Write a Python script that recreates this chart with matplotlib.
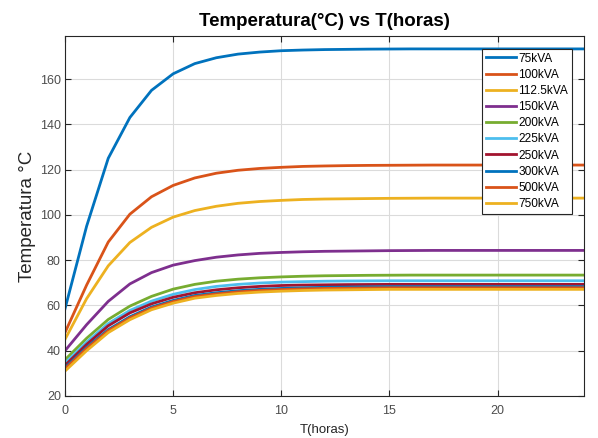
import matplotlib
matplotlib.use("Agg")
import matplotlib.pyplot as plt

hours = list(range(25))

labels = ["75kVA", "100kVA", "112.5kVA", "150kVA", "200kVA", "225kVA",
          "250kVA", "300kVA", "500kVA", "750kVA"]

t75 = [58.5, 95, 125, 143, 155, 162.3, 166.8, 169.4, 171.0, 171.9, 172.5, 172.8,
       173.0, 173.1, 173.2, 173.25, 173.3, 173.3, 173.3, 173.3, 173.3, 173.3, 173.3, 173.3, 173.3]
t100 = [48, 69, 88, 100.3, 108, 113, 116.3, 118.4, 119.7, 120.5, 121.0, 121.4,
        121.6, 121.75, 121.85, 121.9, 121.95, 122, 122, 122, 122, 122, 122, 122, 122]
t112 = [45, 63, 77.5, 87.8, 94.5, 99, 101.9, 103.8, 105.1, 105.9, 106.4, 106.8,
        107.0, 107.1, 107.2, 107.3, 107.35, 107.4, 107.4, 107.4, 107.4, 107.4, 107.4, 107.4, 107.4]
t150 = [40, 51.5, 61.8, 69.5, 74.5, 77.8, 79.8, 81.3, 82.3, 83.0, 83.4, 83.7,
        83.9, 84.0, 84.1, 84.2, 84.25, 84.3, 84.3, 84.3, 84.3, 84.3, 84.3, 84.3, 84.3]
t200 = [36, 45.5, 53.8, 59.7, 64.0, 67.2, 69.3, 70.7, 71.6, 72.2, 72.6, 72.9,
        73.1, 73.2, 73.3, 73.35, 73.4, 73.4, 73.4, 73.4, 73.4, 73.4, 73.4, 73.4, 73.4]
t225 = [34.5, 43.8, 52, 57.8, 61.9, 64.9, 67.0, 68.4, 69.3, 69.9, 70.3, 70.5,
        70.7, 70.8, 70.85, 70.9, 70.9, 70.9, 70.9, 70.9, 70.9, 70.9, 70.9, 70.9, 70.9]
t250 = [33.5, 42.8, 51, 56.7, 60.7, 63.6, 65.6, 66.9, 67.8, 68.4, 68.8, 69.0,
        69.1, 69.2, 69.25, 69.3, 69.3, 69.3, 69.3, 69.3, 69.3, 69.3, 69.3, 69.3, 69.3]
t300 = [32.5, 41.5, 49.3, 55.0, 59.3, 62.2, 64.4, 65.6, 66.5, 67.1, 67.5, 67.8,
        68.0, 68.1, 68.2, 68.3, 68.3, 68.3, 68.3, 68.3, 68.3, 68.3, 68.3, 68.3, 68.3]
t500 = [32, 41, 48.8, 54.5, 58.8, 61.7, 63.9, 65.1, 66.0, 66.6, 67.0, 67.3,
        67.5, 67.6, 67.7, 67.8, 67.8, 67.8, 67.8, 67.8, 67.8, 67.8, 67.8, 67.8, 67.8]
t750 = [31, 40, 48, 53.7, 58.1, 61, 63.2, 64.4, 65.3, 65.9, 66.3, 66.6,
        66.8, 66.9, 67.0, 67.1, 67.1, 67.1, 67.1, 67.1, 67.1, 67.1, 67.1, 67.1, 67.1]

series = [t75, t100, t112, t150, t200, t225, t250, t300, t500, t750]

mcolors = [(0, 0.447, 0.741), (0.85, 0.325, 0.098), (0.929, 0.694, 0.125),
           (0.494, 0.184, 0.556), (0.466, 0.674, 0.188), (0.301, 0.745, 0.933),
           (0.635, 0.078, 0.184)]

plt.rcParams['font.family'] = ['Liberation Sans', 'DejaVu Sans']

fig = plt.figure(figsize=(5.98, 4.38), dpi=100)
ax = fig.add_axes([65/598, 42/438, (584-65)/598, (396-36)/438])

for i, (lab, ys) in enumerate(zip(labels, series)):
    ax.plot(hours, ys, color=mcolors[i % 7], lw=2, label=lab)

ax.set_xlim(0, 24)
ax.set_ylim(20, 179)
ax.set_xticks([0, 5, 10, 15, 20])
ax.set_yticks(list(range(20, 180, 20)))
ax.grid(True, color=(0.86, 0.86, 0.86), lw=0.8)
ax.set_axisbelow(True)
gray = (0.15, 0.15, 0.15)
for s in ax.spines.values():
    s.set_color(gray)
    s.set_linewidth(0.8)
ax.tick_params(direction='in', top=True, right=True, colors=gray,
               labelsize=9, length=4, width=0.8)
ax.tick_params(axis='x', pad=6.5)
ax.tick_params(axis='y', pad=3)
for lbl in ax.get_xticklabels() + ax.get_yticklabels():
    lbl.set_color((0.3, 0.3, 0.3))

ax.set_title("Temperatura(°C) vs T(horas)", fontsize=13.5, fontweight='bold', pad=7)
ax.set_xlabel("T(horas)", fontsize=9.5, color=gray, labelpad=5)
ax.set_ylabel("Temperatura °C", fontsize=13.5, color=gray)
ax.yaxis.set_label_coords(-0.055, 0.5)

leg = ax.legend(loc='upper right', bbox_to_anchor=(571.7/598, (438-49)/438),
                bbox_transform=fig.transFigure, prop={'size': 8.6}, frameon=True,
                fancybox=False, edgecolor=gray, framealpha=1,
                handlelength=2.5, handletextpad=0.23, labelspacing=0.35,
                borderpad=0.3, borderaxespad=0)
leg.get_frame().set_linewidth(0.8)

fig.savefig("out.png", dpi=100)
